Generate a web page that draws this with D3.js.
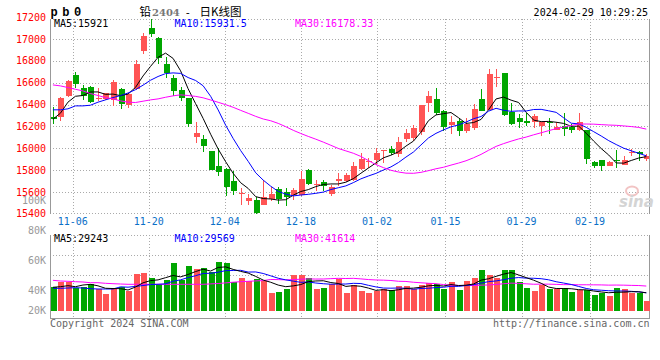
<!DOCTYPE html>
<html><head><meta charset="utf-8">
<script src="https://cdn.jsdelivr.net/npm/d3@7/dist/d3.min.js"></script>
<style>body{margin:0;background:#fff}svg{display:block}</style>
</head><body>
<svg id="c" width="660" height="360"></svg>
<script>
// ---------- data ----------
const opens  = [16285,16282,16480,16671,16553,16559,16452,16452,16440,16540,16397,16543,16890,17103,17006,16769,16641,16531,16458,16099,
                16087,15971,15834,15813,15703,15578,15514,15530,15484,15539,15630,15600,15569,15575,15804,15661,15694,15584,15703,15703,
                15709,15813,15874,15895,15977,15995,15947,16087,16093,16148,16416,16452,16343,16209,16252,16160,16190,16452,16352,16650,
                16686,16330,16276,16254,16245,16206,16245,16169,16206,16199,16166,16169,15870,15895,15840,15895,15843,15959,15962,15904];
const highs  = [16382,16470,16626,16702,16580,16571,16556,16504,16626,16550,16504,16808,17058,17190,17021,16839,16671,16565,16464,16236,
                16123,15977,16002,15818,15788,15636,15584,15551,15706,15645,15645,15636,15636,15788,15813,15712,15712,15667,15770,15770,
                15870,15956,15910,16002,15986,16023,16102,16175,16215,16400,16522,16556,16352,16300,16267,16276,16404,16544,16726,16726,
                16686,16413,16313,16321,16313,16245,16276,16245,16321,16221,16321,16169,15886,15895,15886,15987,15925,15995,15971,15947];
const lows   = [16224,16254,16473,16556,16443,16413,16434,16440,16391,16358,16367,16534,16863,17020,16769,16647,16479,16437,16199,16047,
                15962,15800,15743,15560,15575,15478,15478,15400,15484,15514,15493,15469,15530,15560,15667,15606,15606,15560,15651,15688,
                15697,15804,15819,15849,15865,15941,15919,16056,16062,16117,16330,16306,16154,16133,16114,16139,16169,16337,16352,16565,
                16300,16215,16190,16200,16190,16114,16130,16169,16108,16139,16160,15853,15816,15788,15834,15822,15843,15925,15886,15886];
const closes = [16267,16461,16616,16592,16480,16428,16464,16504,16604,16409,16501,16769,17027,17043,16823,16693,16528,16458,16224,16139,
                16017,15804,15782,15642,15606,15588,15542,15408,15554,15585,15539,15557,15618,15721,15673,15676,15655,15642,15721,15752,
                15840,15901,15880,15956,15986,15959,16056,16142,16184,16397,16483,16321,16199,16236,16160,16221,16361,16343,16677,16656,
                16306,16221,16236,16230,16297,16236,16230,16199,16175,16166,16242,15904,15840,15834,15870,15880,15895,15962,15947,15932];
const volumes = [43400,49000,49000,43000,44000,46700,41700,36700,41700,43400,40000,56700,57700,52700,47000,51000,67700,50700,64700,61700,
                 62700,58400,68700,67700,49000,52700,50000,52000,49400,38000,38700,42000,56000,56000,52700,42000,43000,47000,51400,38000,
                 45700,40000,38000,40000,41400,40700,44700,44700,41400,45700,48000,46700,41400,49000,40700,49700,52700,60700,56000,52700,
                 60700,60700,48700,42700,39700,45400,41700,41400,42700,38700,40700,40700,35700,38000,34700,43000,41400,38000,37400,29700];
// moving-average values before a full window is available
const ma5Head  = [16266,16321,16422,16476];
const ma10Head = [16352,16352,16361,16388,16388,16394,16422,16443,16464];
const ma30Head = [16580,16571,16556,16540,16525,16501,16483,16464,16452,16434,16422,16419,16431,16443,16452,16467,16480,16489,16483,16475,
                  16462,16442,16421,16399,16375,16347,16320,16292,16268];
const volMa5Head  = [43400,44000,45000,44000];
const volMa10Head = [42400,42400,42700,43000,42700,42000,41700,41700,41700];
const volMa30Head = [50400,49700,49400,49000,48700,48000,48000,47400,47000,46700,46400,46400,46400,46400,46400,46400,46400,46400,46400,46400,
                     46400,46800,47200,47800,48500,49000,49400,49800,50100];
const priceTicks = [17200,17000,16800,16600,16400,16200,16000,15800,15600,15400];
const gridPrices = [17000,16800,16600,16400,16200,16000,15800,15600];
const dateTickIndex = [3,13,23,33,43,52,62,71];
const dateTickLabels = ["11-06","11-20","12-04","12-18","01-02","01-15","01-29","02-19"];
const volTickValues = [100000,80000,60000,40000,20000];
const volTickLabels = ["100K","80K","60K","40K","20K"];
const priceLegend = ["MA5:15921","MA10:15931.5","MA30:16178.33"];
const volLegend = ["MA5:29243","MA10:29569","MA30:41614"];

// ---------- setup ----------
const RED = "#ff5454", GREEN = "#00a600";
const MA_COLORS = ["#000000","#0000ff","#ff00ff"];
const MONO = "DejaVu Sans Mono, monospace";
const svg = d3.select("#c");
const L = 50, R = 649, T = 19, B = 214, VT = 235, VB = 318;

const x = d3.scaleLinear().domain([-0.5, 79.5]).range([49.15, 650.05]);
const gx = d3.scaleLinear().domain([3, 71]).range([72.7, 590]);
const y = d3.scaleLinear().domain([15400, 17200]).range([213.8, 17.2]);
const yv = d3.scaleLinear().domain([20000, 100000]).range([310.7, 230.7]);
const yvLabel = d3.scaleLinear().domain([20000, 40000, 100000]).range([310.5, 290.5, 200.5]);

function movingAvg(vals, n, head) {
  return vals.map((v, i) => i < n - 1 ? head[i] : d3.mean(vals.slice(i - n + 1, i + 1)));
}
const px = v => Math.round(v) + 0.5;

// ---------- grids ----------
const grid = svg.append("g").attr("stroke", "#aaa").attr("stroke-dasharray", "1,2").attr("shape-rendering", "crispEdges");
grid.selectAll(".hg").data(gridPrices).join("line")
  .attr("x1", L).attr("x2", R).attr("y1", d => px(y(d))).attr("y2", d => px(y(d)));
grid.selectAll(".vg").data(dateTickIndex).join("line")
  .attr("x1", d => px(gx(d))).attr("x2", d => px(gx(d))).attr("y1", T).attr("y2", B);
grid.selectAll(".vg2").data(dateTickIndex).join("line").attr("class","vg2")
  .attr("x1", d => px(gx(d))).attr("x2", d => px(gx(d))).attr("y1", VT).attr("y2", VB);
// borders (dotted)
[[L, T + 0.5, R, T + 0.5], [L, B - 0.5, R, B - 0.5], [L, VT + 0.5, R, VT + 0.5], [L, 255.5, R, 255.5], [L, 275.5, R, 275.5]]
  .forEach(s => grid.append("line").attr("x1", s[0]).attr("y1", s[1]).attr("x2", s[2]).attr("y2", s[3]));
// solid axes
const ax = svg.append("g").attr("stroke", "#999").attr("shape-rendering", "crispEdges");
[[L + 0.5, T, L + 0.5, B], [R + 0.5, T, R + 0.5, B], [L + 0.5, VT, L + 0.5, VB], [R + 0.5, VT, R + 0.5, VB], [L, VB + 0.5, R + 1, VB + 0.5]]
  .forEach(s => ax.append("line").attr("x1", s[0]).attr("y1", s[1]).attr("x2", s[2]).attr("y2", s[3]));

// ---------- sina watermark ----------
const wm = svg.append("g");
wm.append("ellipse").attr("cx", 632).attr("cy", 191).attr("rx", 6).attr("ry", 4.5)
  .attr("fill", "none").attr("stroke", "#f2c4c4").attr("stroke-width", 2);
wm.append("text").attr("x", 619).attr("y", 207).attr("font-family", "DejaVu Sans, sans-serif")
  .attr("font-size", 15).attr("font-style", "italic").attr("font-weight", "bold").attr("fill", "#d4d4d4").text("sina");

// ---------- candles ----------
const data = closes.map((c, i) => ({i, o: opens[i], h: highs[i], l: lows[i], c, v: volumes[i]}));
svg.append("clipPath").attr("id", "clipMain").append("rect").attr("x", L + 1).attr("y", T).attr("width", R - L - 1).attr("height", B - T);
const cg = svg.append("g").attr("clip-path", "url(#clipMain)").attr("shape-rendering", "crispEdges");
const candle = cg.selectAll("g").data(data).join("g");
candle.append("line")
  .attr("x1", d => Math.round(x(d.i)) + 0.5).attr("x2", d => Math.round(x(d.i)) + 0.5)
  .attr("y1", d => y(d.h)).attr("y2", d => y(d.l))
  .attr("stroke", d => d.c >= d.o ? RED : GREEN);
candle.append("rect")
  .attr("x", d => Math.round(x(d.i)) - 2.5 + 0.5 - 0.5).attr("width", 6)
  .attr("y", d => y(Math.max(d.o, d.c)))
  .attr("height", d => Math.max(1, Math.abs(y(d.o) - y(d.c))))
  .attr("fill", d => d.c >= d.o ? RED : GREEN);

// MA lines main
const maSets = [movingAvg(closes, 5, ma5Head), movingAvg(closes, 10, ma10Head), movingAvg(closes, 30, ma30Head)];
const line = d3.line().x((d, i) => x(i)).y(d => y(d));
maSets.forEach((s, k) => cg.append("path").datum(s).attr("d", line)
  .attr("fill", "none").attr("stroke", MA_COLORS[k]).attr("stroke-width", 1).attr("shape-rendering", "auto"));

// ---------- volume ----------
const vg = svg.append("g");
vg.selectAll("rect").data(data).join("rect").attr("shape-rendering", "crispEdges")
  .attr("x", d => Math.round(x(d.i)) - 2).attr("width", 6)
  .attr("y", d => yv(d.v)).attr("height", d => yv(20000) - yv(d.v))
  .attr("fill", d => d.c >= d.o ? RED : GREEN);
const vmaSets = [movingAvg(volumes, 5, volMa5Head), movingAvg(volumes, 10, volMa10Head), movingAvg(volumes, 30, volMa30Head)];
const vline = d3.line().x((d, i) => x(i)).y(d => yv(d));
[2, 1, 0].forEach(k => vg.append("path").datum(vmaSets[k]).attr("d", vline)
  .attr("fill", "none").attr("stroke", MA_COLORS[k]).attr("stroke-width", 1));

// ---------- texts ----------
const txt = (g, xx, yy, s, opt = {}) => g.append("text").attr("x", xx).attr("y", yy)
  .attr("font-family", opt.ff || MONO).attr("font-size", opt.fs || 10)
  .attr("fill", opt.fill || "#000").attr("text-anchor", opt.anchor || "start")
  .attr("font-weight", opt.fw || "normal").text(s);
const tg = svg.append("g");

// price axis labels
tg.selectAll(".pl").data(priceTicks).join("text").attr("class", "pl")
  .attr("x", 46).attr("y", d => y(d)).attr("dy", "0.36em").attr("text-anchor", "end")
  .attr("font-family", MONO).attr("font-size", 10).attr("fill", "#ff0000").text(d => d);
// volume axis labels
tg.selectAll(".vl").data(volTickValues).join("text").attr("class", "vl")
  .attr("x", 46).attr("y", d => yvLabel(d)).attr("dy", "0.36em").attr("text-anchor", "end")
  .attr("font-family", MONO).attr("font-size", 10).attr("fill", "#999").text((d, i) => volTickLabels[i]);
// date labels
tg.selectAll(".dl").data(dateTickIndex).join("text").attr("class", "dl")
  .attr("x", d => gx(d)).attr("y", 225).attr("text-anchor", "middle")
  .attr("font-family", MONO).attr("font-size", 10).attr("fill", "#0a70c8").text((d, i) => dateTickLabels[i]);

// legends
const legX = [54, 174.5, 295];
priceLegend.forEach((s, k) => txt(tg, legX[k], 27.3, s, {fill: MA_COLORS[k]}));
volLegend.forEach((s, k) => txt(tg, legX[k], 242, s, {fill: MA_COLORS[k]}));

// header
tg.append("text").attr("x", 50.5).attr("y", 15.7).attr("font-family", "Liberation Mono, monospace")
  .attr("font-size", 12).attr("font-weight", "bold").attr("letter-spacing", "-1.3px").text("p b 0");
const title = tg.append("text").attr("y", 16);
title.append("tspan").attr("x", 139.5).attr("font-family", "Noto Sans CJK SC").attr("font-size", 11.5).text("铅");
title.append("tspan").attr("x", 152).attr("font-family", "DejaVu Serif, serif").attr("font-weight", "bold")
  .attr("font-size", 10).attr("fill", "#777").text("2404");
title.append("tspan").attr("x", 184.5).attr("font-family", MONO).attr("font-size", 11).text("-");
title.append("tspan").attr("x", 199.5).attr("font-family", "Noto Sans CJK SC").attr("font-size", 11.5).text("日K线图");
txt(tg, 648, 15.5, "2024-02-29 10:29:25", {anchor: "end"});

// footer
txt(tg, 50, 326.5, "Copyright 2024 SINA.COM", {fill: "#666"});
txt(tg, 649.5, 326.5, "http://finance.sina.com.cn", {fill: "#666", anchor: "end"});
</script>
</body></html>
